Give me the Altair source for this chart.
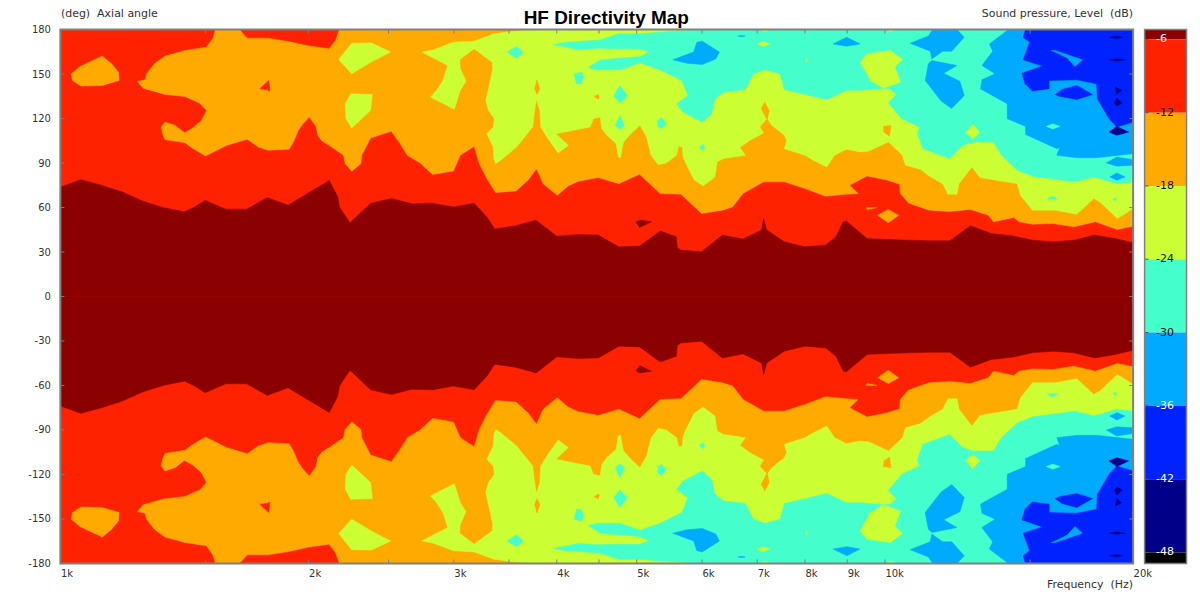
import altair as alt
import pandas as pd

DARK_RED = "#8b0000"; RED = "#ff2200"; ORANGE = "#ffaa00"; YELLOW = "#ccff33"
CYAN = "#44ffcc"; SKY = "#00aaff"; BLUE = "#0022ff"; NAVY = "#000088"; BLACK = "#000000"

BASE = [(1000, 0), (1000, 180), (20000, 180), (20000, 0)]

MAIN_LOBE = [(1000,73.9),(1059,78.8),(1122,75),(1189,70.5),(1260,64.3),(1335,59.8),(1414,57.1),(1455,60.4),(1498,64.9),(1587,58.9),(1682,58.9),(1782,66.7),(1888,61.6),(2000,69.9),(2119,78.2),(2170,67.2),(2180,60.4),(2245,49.7),(2378,62.9),(2520,66.1),(2670,62.5),(2828,62.9),(2997,60.4),(3175,62.9),(3290,53.7),(3364,45.6),(3564,47.7),(3775,51.5),(4000,40.7),(4238,41.8),(4490,41.4),(4757,33.5),(5040,34),(5339,44.1),(5585,40.3),(5600,33),(5657,31.3),(5993,30.2),(6350,41.4),(6727,38.7),(7085,44.8),(7127,52.6),(7190,44.8),(7551,36.9),(8000,33.5),(8476,34.7),(8720,40.3),(8900,50.4),(8980,50.8),(9250,44.8),(9514,39.1),(10079,38.5),(10679,38),(11314,37.6),(11986,37.6),(12699,47.7),(13454,42.5),(14254,41),(15102,38),(16000,36.9),(16951,38),(17959,41.4),(19027,39.1),(20000,36.2),(20000,0),(1000,0)]

ORANGE_MAIN = [(1542,180),(1533,174.8),(1504,168.1),(1416,165.9),(1339,162.1),(1300,156.9),(1272,150.2),(1267,146.1),(1240,145),(1260,140.5),(1339,136.3),(1416,134.9),(1476,130.4),(1504,125.5),(1483,118.8),(1449,113.8),(1414,110.5),(1377,115.4),(1339,117.6),(1325,114.3),(1330,109.8),(1339,105.8),(1416,103.7),(1449,99.7),(1500,94.8),(1590,101.9),(1685,106),(1738,100.8),(1787,98.6),(1894,99.3),(1917,104.2),(1943,112),(1970,116.6),(2004,121),(2042,114.7),(2052,108.7),(2076,104.9),(2117,102),(2205,95.2),(2215,89.6),(2256,84.5),(2314,89.6),(2320,95.2),(2378,106.9),(2520,111.4),(2582,103.1),(2635,95.2),(2730,90.1),(2828,82.2),(2997,84.7),(3055,95.2),(3175,101.3),(3222,89.6),(3290,79.5),(3372,70.1),(3570,71.2),(3690,78.4),(3780,86.2),(3850,76.1),(4005,68.3),(4130,74.6),(4250,77.7),(4490,80.2),(4757,76.1),(5040,82.4),(5339,69.4),(5657,69),(5993,56),(6350,58.2),(6535,60.4),(6727,69.4),(7127,77.3),(7551,77.3),(8000,72.8),(8476,67.6),(8980,69),(9280,69.4),(9060,75),(9514,81.3),(10079,78.4),(10420,75.7),(10440,69.4),(10679,63.1),(11314,58.2),(11986,57.3),(12699,58.7),(13350,54.8),(13540,50.4),(14340,53.3),(14540,50.4),(15102,48.8),(16000,49.2),(16951,47),(18000,50.4),(19140,45.2),(20000,47.4),(20000,180)]
ORANGE_LEFT = [(1031,150.2),(1056,155.1),(1124,162.1),(1154,156.9),(1176,151.3),(1178,145.7),(1124,142.3),(1060,141.9),(1034,145.7)]
RED_DOT = [(1745,140.1),(1790,145.7),(1795,138.5),(1780,139.5)]
RED_TOP = [(1651,180),(1685,174.4),(1787,174.4),(1894,172.2),(2004,169.2),(2117,167.4),(2153,172.6),(2177,180)]

YELLOW_A = [(2175,159.8),(2256,170.8),(2385,171),(2515,164.8),(2400,159.1),(2256,150.2)]
YELLOW_B = [(2215,130),(2250,136.7),(2390,136.3),(2378,125.5),(2256,113.6),(2220,119.9)]
YELLOW_MAIN = [(2743,164.8),(2833,166.3),(2997,171.5),(3175,172.2),(3350,177),(3515,178.7),(3780,180),(20000,180),(20000,59.3),(19140,52.6),(18230,63.8),(17920,66.1),(17090,55.5),(16090,58.2),(15102,58.2),(14600,68.3),(14470,76.1),(13790,77.9),(13040,80.2),(12750,87.4),(12300,76.1),(12230,69),(11930,69),(11750,76.1),(11314,81.3),(11040,85.8),(10590,88.5),(10500,95.2),(10100,104.2),(9550,97.9),(9330,97.5),(8980,99.3),(8690,95.2),(8500,87.4),(8190,91.9),(8000,95.2),(7551,99.7),(7600,105.3),(7551,108.7),(7290,115.4),(7210,119.4),(7250,125.5),(7150,131.6),(7070,126.6),(7180,119.4),(7050,114.3),(7127,110.3),(6860,105.3),(6670,100.4),(6770,95.2),(6370,93),(6260,90.7),(6220,80.6),(6020,74.6),(5870,78.8),(5750,88.5),(5690,94.1),(5680,100.8),(5620,101.3),(5590,95.2),(5430,90.1),(5310,88.9),(5205,95.2),(5140,107.6),(5045,115.4),(4920,109.8),(4820,104.2),(4805,100.8),(4780,93.6),(4750,94.1),(4720,103.1),(4600,108.7),(4535,113.2),(4515,121),(4430,119.9),(4390,114.3),(3990,109.8),(4130,101.9),(4015,96.8),(3890,107.6),(3825,114.3),(3815,125.5),(3780,132.9),(3760,125.5),(3740,114.3),(3575,100.8),(3420,91.9),(3372,89.6),(3355,93),(3350,100.8),(3290,109.8),(3350,114.3),(3360,119.9),(3305,125.5),(3280,132.2),(3305,140.1),(3345,153.5),(3340,158),(3175,167),(3050,159.6),(3055,153.5),(3105,145.2),(3055,139),(3005,126.2),(2810,134.5),(2860,139),(2910,145.7),(2950,155.8)]
ORANGE_TEAR = [(3760,140.1),(3785,146.1),(3815,140.1),(3785,136.3)]
ORANGE_DOT = [(4440,135),(4490,136.3),(4505,134),(4490,133)]
ORANGE_10K = [(9960,114.7),(10170,115.4),(10130,108.2),(9970,110.9)]

CYAN_MAIN = [(3960,169.9),(4110,171.5),(4515,173),(4750,177.1),(5020,177.1),(5330,178.2),(5993,180),(20000,180),(20000,77.3),(19140,76.1),(17920,80.6),(17000,77.3),(15130,81.1),(14470,85.1),(13850,95.2),(13540,104.2),(12810,104.2),(12430,102),(11986,93),(11120,99.7),(10950,109.8),(11010,114.3),(10480,119.9),(10100,130.7),(10320,136.3),(10150,140.1),(9960,140.5),(9330,139),(8980,139),(8500,132.9),(8000,136.3),(7551,139.6),(7460,150.2),(7155,152.9),(6925,150.2),(6770,139.6),(6370,137.8),(6220,133.3),(6160,123.2),(6005,117.6),(5690,124.4),(5590,130),(5770,135.6),(5670,145.7),(5330,153.1),(5045,157.6),(4770,152.9),(4475,152.9),(4390,154),(4370,154.6),(4515,159.5),(4750,160.7),(5045,161.8),(5180,164.8),(5045,167),(4750,167),(4475,167.4),(4390,167),(4250,166.5)]
CYAN_A = [(3480,164.8),(3575,168.6),(3640,164.8),(3575,160.7)]
CYAN_B = [(4198,150.2),(4290,151.3),(4308,147.9),(4280,143.4),(4225,143.4)]
CYAN_C = [(4690,135.6),(4770,142.3),(4870,135.6),(4770,130.4)]
CYAN_D = [(4710,115.4),(4770,122.1),(4830,115.4),(4770,112.7)]
CYAN_E = [(5300,118.8),(5360,120.6),(5435,116.5),(5360,113.2),(5310,114.3)]
CYAN_F = [(5960,100.4),(6010,102.6),(6050,100.4),(6010,98.6)]
CYAN_G = [(15730,65.6),(15980,67.8),(16190,65.6)]
CYAN_H = [(18900,65.6),(19030,66.5),(19120,65.6),(19030,64.5)]

YELLOW_C = [(6990,170.3),(7115,172),(7250,170.3),(7115,168.7)]
YELLOW_D = [(8010,159),(8040,160.6),(8050,158.3)]
YELLOW_E = [(7045,180),(7250,180),(7150,178.7)]
YELLOW_F = [(10040,180),(10320,180),(10150,178.7)]
YELLOW_LOBE = [(9330,158),(9505,163.6),(10150,165.9),(10500,159.8),(10280,154.7),(10450,144.6),(9960,140.5),(9600,145.7),(9505,150.2)]
YELLOW_G = [(12535,110.5),(12770,116.1),(13040,110.5),(12770,106.4)]

SKY_A = [(5530,159.6),(5860,164.8),(5915,171.5),(6005,172.2),(6300,164.8),(6235,160.2),(6005,156.4),(5750,157.3)]
SKY_B = [(8650,170.3),(8990,174.8),(9330,170.3),(8990,168.7)]
SKY_C = [(6630,175.6),(6700,176),(6770,175.6),(6700,175.2)]
SKY_D = [(11430,180),(12230,180),(12480,174.8),(12050,165.4),(11750,165.4),(11400,160.2),(11350,165.4),(10730,170.7),(11290,175.7)]
SKY_E = [(11400,159.1),(12230,155.8),(11780,150.5),(12330,145.2),(12480,135.6),(12050,126.7),(11700,131.8),(11190,145.7),(11290,156.9)]
SKY_MAIN = [(14118,180),(13387,170.3),(13510,165.4),(13110,155.8),(13600,150.2),(13110,146.1),(13060,140),(14070,130),(14070,119.9),(14810,114.7),(14810,109.3),(16160,99.7),(16290,100.4),(16160,95.2),(17090,93.6),(18060,93.6),(20000,96.3),(20000,180)]
SKY_F = [(18557,90.1),(19110,94.1),(20000,92.3),(20000,88.5),(19110,87.9)]
SKY_G = [(18740,80.6),(19110,83.3),(19560,80.6),(19110,78.4)]

BLUE_MAIN = [(14810,180),(14710,174.8),(14980,171.5),(14710,159.6),(15530,155.4),(14660,150.6),(14790,143.4),(15095,138.5),(15820,140.1),(15820,145.7),(17090,146.1),(18060,143.4),(18100,133.3),(18700,119.9),(19110,114.3),(20000,117.6),(20000,180)]
SKY_H = [(15910,165.9),(16090,165.9),(17360,159.6),(17000,155.1),(16640,160.9),(16160,164.3)]
CYAN_I = [(15690,114.7),(15980,116.5),(16310,114.7),(15980,113)]
BLUE_A = [(16090,136.2),(16400,139.6),(17090,142.3),(17860,136.2),(17090,132.9),(16310,134.9)]

NAVY_A = [(18700,110.9),(19110,114.7),(19750,110.9),(19110,108.7)]
NAVY_B = [(19030,141.2),(19370,139),(19110,136.3)]
NAVY_C = [(18980,130.4),(19110,134),(19400,130.4),(19110,128.4)]
NAVY_D = [(18700,159.6),(19110,160.3),(19560,159.6),(19110,158.7)]
NAVY_E = [(18700,174.8),(19110,175.5),(19450,174.8),(19110,174)]

ORANGE_E = [(9797,54.8),(10100,58.7),(10390,54.8),(10100,49.7)]
ORANGE_F = [(9490,59.8),(9780,60),(9520,58.7)]
DARK_ISLE = [(4992,50.3),(5045,51.5),(5210,50.4),(5040,46.5)]

PAINT = [(RED,BASE),(ORANGE,ORANGE_MAIN),(ORANGE,ORANGE_LEFT),(RED,RED_DOT),(RED,RED_TOP),
         (YELLOW,YELLOW_A),(YELLOW,YELLOW_B),(YELLOW,YELLOW_MAIN),
         (ORANGE,ORANGE_TEAR),(ORANGE,ORANGE_DOT),(ORANGE,ORANGE_10K),
         (CYAN,CYAN_MAIN),(CYAN,CYAN_A),(CYAN,CYAN_B),(CYAN,CYAN_C),(CYAN,CYAN_D),(CYAN,CYAN_E),(CYAN,CYAN_F),(CYAN,CYAN_G),(CYAN,CYAN_H),
         (YELLOW,YELLOW_C),(YELLOW,YELLOW_D),(YELLOW,YELLOW_E),(YELLOW,YELLOW_F),(YELLOW,YELLOW_LOBE),(YELLOW,YELLOW_G),
         (SKY,SKY_A),(SKY,SKY_B),(SKY,SKY_C),(SKY,SKY_D),(SKY,SKY_E),(SKY,SKY_MAIN),(SKY,SKY_F),(SKY,SKY_G),
         (BLUE,BLUE_MAIN),(SKY,SKY_H),(CYAN,CYAN_I),(BLUE,BLUE_A),
         (NAVY,NAVY_A),(NAVY,NAVY_B),(NAVY,NAVY_C),(NAVY,NAVY_D),(NAVY,NAVY_E),
         (ORANGE,ORANGE_E),(ORANGE,ORANGE_F),(DARK_RED,MAIN_LOBE),(DARK_RED,DARK_ISLE)]

FREQ_LABELS = [1000,2000,3000,4000,5000,6000,7000,8000,9000,10000,20000]
FREQ_TICKS = [1500,2000,2500,3000,3500,4000,4500,5000,6000,7000,8000,9000,10000,15000]
ANGLE_TICKS = [180,150,120,90,60,30,0,-30,-60,-90,-120,-150,-180]
CB_TOP = [-5.2,-6,-12,-18,-24,-30,-36,-42,-48]
CB_BOTTOM = [-6,-12,-18,-24,-30,-36,-42,-48,-48.9]
CB_COLORS = [DARK_RED,RED,ORANGE,YELLOW,CYAN,SKY,BLUE,NAVY,BLACK]
CB_LABELS = [-6,-12,-18,-24,-30,-36,-42,-48]
CB_LABEL_TEXT = ["-6","-12","-18","-24","-30","-36","-42","-48"]
CB_LABEL_COLORS = ["#ffffff","#111111","#111111","#111111","#111111","#ffffff","#ffffff","#ffffff"]

W, H = 1075, 535
FONT = "DejaVu Sans"
FS = 11
TICK_FS = 10
TXT = "#333333"
FRAME = "#808080"

rows = []
pid = 0
for color, poly in PAINT:
    for sign in (1, -1):
        for i, (f, a) in enumerate(poly):
            rows.append({"id": f"{pid:03d}", "i": i, "f": f, "a": sign * a, "c": color})
        pid += 1
df = pd.DataFrame(rows)

xs = alt.Scale(type="log", domain=[1000, 20000], range=[0, W], nice=False)
ys = alt.Scale(domain=[-180, 180], range=[H, 0], nice=False, zero=False)
dbs = alt.Scale(domain=[-48.9, -5.2], range=[H, 0], nice=False, zero=False)

xaxis = alt.Axis(values=FREQ_LABELS, labelExpr="(datum.value/1000)+'k'", labelAlign="left", labelPadding=5,
                 tickSize=0, domain=False, grid=False, title=None, labelFont=FONT, labelFontSize=TICK_FS,
                 labelColor=TXT, labelBound=False, labelFlush=False, labelOverlap=False)
yaxis = alt.Axis(values=ANGLE_TICKS, labelExpr="''+datum.value", labelPadding=10, tickSize=0, domain=False, grid=False,
                 title=None, labelFont=FONT, labelFontSize=TICK_FS, labelColor=TXT, labelOverlap=False,
                 labelBound=False, labelFlush=False)

polys = alt.Chart(df).mark_line(interpolate="linear-closed", strokeWidth=0.5).encode(
    x=alt.X("f:Q", scale=xs, axis=xaxis),
    y=alt.Y("a:Q", scale=ys, axis=yaxis),
    fill=alt.Fill("c:N", scale=None),
    stroke=alt.Stroke("c:N", scale=None),
    detail="id:N",
    order="i:Q",
)

tx = pd.DataFrame({"f": FREQ_TICKS})
ty = pd.DataFrame({"a": ANGLE_TICKS[1:-1]})
tick_x_top = alt.Chart(tx).mark_rule(color=FRAME).encode(x=alt.X("f:Q", scale=xs, axis=xaxis), y=alt.value(0), y2=alt.value(4))
tick_x_bot = alt.Chart(tx).mark_rule(color=FRAME).encode(x=alt.X("f:Q", scale=xs, axis=xaxis), y=alt.value(H-4), y2=alt.value(H))
tick_y_l = alt.Chart(ty).mark_rule(color=FRAME).encode(y=alt.Y("a:Q", scale=ys, axis=yaxis), x=alt.value(0), x2=alt.value(4))
tick_y_r = alt.Chart(ty).mark_rule(color=FRAME).encode(y=alt.Y("a:Q", scale=ys, axis=yaxis), x=alt.value(W-4), x2=alt.value(W))
frame = alt.Chart(pd.DataFrame({"v": [0]})).mark_rect(fillOpacity=0, stroke=FRAME, strokeWidth=2).encode(
    x=alt.value(0), x2=alt.value(W), y=alt.value(0), y2=alt.value(H))

def label(text, x, y, align="left", size=FS, weight="normal", font=FONT, color=TXT):
    return alt.Chart(pd.DataFrame({"t": [text]})).mark_text(align=align, baseline="middle", fontSize=size,
        fontWeight=weight, font=font, color=color).encode(text="t:N", x=alt.value(x), y=alt.value(y))

texts = [
    label("HF Directivity Map", 547, -12, "center", 19, "bold", "Liberation Sans", "#000000"),
    label("(deg)\u00a0\u00a0Axial angle", 0.5, -15.5),
    label("Sound pressure, Level\u00a0\u00a0(dB)", W, -15.5, "right"),
    label("Frequency\u00a0\u00a0(Hz)", W, 557, "right"),
]

cb = pd.DataFrame({"top": CB_TOP, "bottom": CB_BOTTOM, "c": CB_COLORS})
cb_rect = alt.Chart(cb).mark_rect().encode(
    x=alt.value(W+11.5), x2=alt.value(W+53.5),
    y=alt.Y("top:Q", scale=dbs, axis=None), y2="bottom:Q",
    fill=alt.Fill("c:N", scale=None))
cbl = pd.DataFrame({"d": CB_LABELS, "t": CB_LABEL_TEXT, "c": CB_LABEL_COLORS})
cb_tick = alt.Chart(cbl).mark_rule(color="#555555").encode(
    x=alt.value(W+11.5), x2=alt.value(W+15.5), y=alt.Y("d:Q", scale=dbs, axis=None))
cb_text = alt.Chart(cbl).mark_text(align="left", baseline="middle", font=FONT, fontSize=FS).encode(
    x=alt.value(W+23), y=alt.Y("d:Q", scale=dbs, axis=None), text="t:N", color=alt.Color("c:N", scale=None))
cb_frame = alt.Chart(pd.DataFrame({"v": [0]})).mark_rect(fillOpacity=0, stroke=FRAME, strokeWidth=1.5).encode(
    x=alt.value(W+11.5), x2=alt.value(W+53.5), y=alt.value(0), y2=alt.value(H))

plot = alt.layer(polys, tick_x_top, tick_x_bot, tick_y_l, tick_y_r, frame, *texts)
bar = alt.layer(cb_rect, cb_tick, cb_text, cb_frame)

chart = alt.layer(plot, bar).resolve_scale(y="independent").properties(
    width=W, height=H, autosize="none",
    padding={"left": 52.5, "top": 21, "right": 59, "bottom": 27},
    background="white",
).configure_view(stroke=None)

chart.save("out.html", embed_options={"renderer": "svg", "actions": False})
